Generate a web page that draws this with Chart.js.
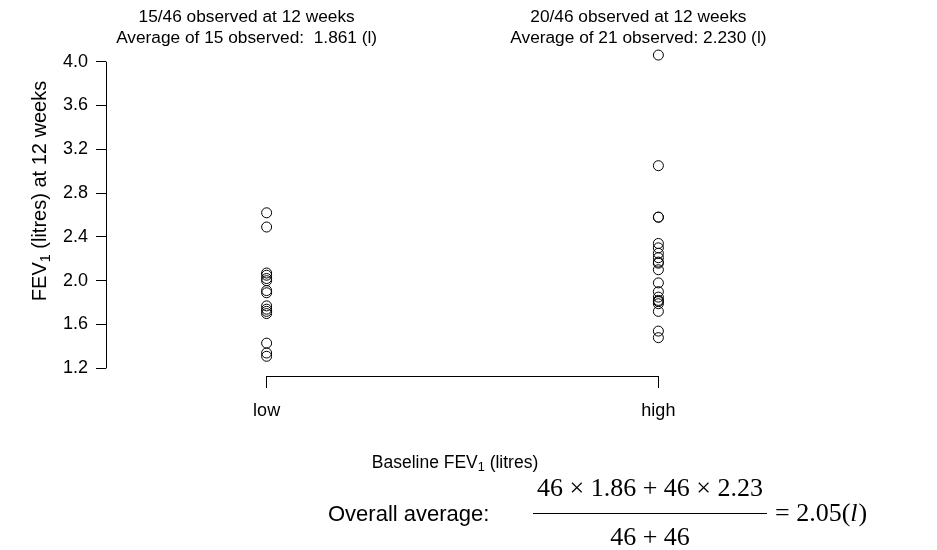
<!DOCTYPE html>
<html lang="en">
<head>
<meta charset="UTF-8">
<title>FEV1 at 12 weeks</title>
<script src="https://cdn.jsdelivr.net/npm/chart.js"></script>
<style>
  body { margin: 0; background: #fff; }
</style>
</head>
<body>
<canvas id="fevChart" width="937" height="550"></canvas>
<script>
// data
const groups = ['low', 'high'];
const lowFev = [2.62, 2.49, 2.07, 2.05, 2.02, 2.00, 1.91, 1.89, 1.77, 1.74, 1.72, 1.70, 1.43, 1.34, 1.31];
const highFev = [4.06, 3.05, 2.58, 2.58, 2.34, 2.30, 2.25, 2.21, 2.17, 2.16, 2.10, 1.98, 1.90, 1.85, 1.82, 1.81, 1.79, 1.72, 1.54, 1.48];
const yTicks = [1.2, 1.6, 2.0, 2.4, 2.8, 3.2, 3.6, 4.0];
const panelTitles = [
  ['15/46 observed at 12 weeks', 'Average of 15 observed:  1.861 (l)'],
  ['20/46 observed at 12 weeks', 'Average of 21 observed: 2.230 (l)']
];

const SANS = '"Liberation Sans", Arial, sans-serif';
const SERIF = '"Liberation Serif", "Times New Roman", serif';

// draw text with a subscript piece, e.g. FEV_1
function drawParts(ctx, parts, x, y, size) {
  let total = 0;
  parts.forEach(p => {
    ctx.font = (p.sub ? size * 0.72 : size) + 'px ' + SANS;
    p.w = ctx.measureText(p.t).width;
    total += p.w;
  });
  let cx = x - total / 2;
  ctx.textAlign = 'left';
  parts.forEach(p => {
    ctx.font = (p.sub ? size * 0.72 : size) + 'px ' + SANS;
    ctx.fillText(p.t, cx, p.sub ? y + size * 0.28 : y);
    cx += p.w;
  });
}

const rAxes = {
  id: 'rAxes',
  afterDraw(chart) {
    const ctx = chart.ctx;
    const xs = chart.scales.x, ys = chart.scales.y;
    const area = chart.chartArea;
    ctx.save();
    ctx.strokeStyle = '#000';
    ctx.lineWidth = 1;
    // axis lines only over the tick range, like base R
    const lx = Math.round(area.left) + 0.5;
    ctx.beginPath();
    ctx.moveTo(lx, ys.getPixelForValue(yTicks[0]));
    ctx.lineTo(lx, ys.getPixelForValue(yTicks[yTicks.length - 1]));
    const by = Math.round(area.bottom) + 0.5;
    ctx.moveTo(xs.getPixelForValue(1), by);
    ctx.lineTo(xs.getPixelForValue(2), by);
    ctx.stroke();

    ctx.fillStyle = '#000';
    ctx.textBaseline = 'middle';
    ctx.textAlign = 'center';
    ctx.font = '17.3px ' + SANS;
    panelTitles.forEach((lines, i) => {
      const px = xs.getPixelForValue(i + 1) - 20;
      ctx.fillText(lines[0], px, 17);
      ctx.fillText(lines[1], px, 38);
    });

    // x axis title
    drawParts(ctx, [{t: 'Baseline FEV'}, {t: '1', sub: true}, {t: ' (litres)'}], 455, 463, 17.5);

    // y axis title
    ctx.save();
    ctx.translate(40, 191);
    ctx.rotate(-Math.PI / 2);
    drawParts(ctx, [{t: 'FEV'}, {t: '1', sub: true}, {t: ' (litres) at 12 weeks'}], 0, 0, 20);
    ctx.restore();

    // overall average formula
    ctx.textAlign = 'left';
    ctx.font = '22px ' + SANS;
    ctx.fillText('Overall average:', 328, 515);
    ctx.font = '26px ' + SERIF;
    ctx.textAlign = 'center';
    ctx.fillText('46 \u00d7 1.86 + 46 \u00d7 2.23', 650, 489);
    ctx.fillText('46 + 46', 650, 538);
    ctx.beginPath();
    ctx.moveTo(533, 513.5);
    ctx.lineTo(767, 513.5);
    ctx.stroke();
    ctx.textAlign = 'left';
    const ex = 775;
    ctx.fillText('= 2.05(', ex, 514);
    let w = ctx.measureText('= 2.05(').width;
    ctx.font = 'italic 26px ' + SERIF;
    ctx.fillText('l', ex + w, 514);
    w += ctx.measureText('l').width + 1;
    ctx.font = '26px ' + SERIF;
    ctx.fillText(')', ex + w, 514);
    ctx.restore();
  }
};

const pointStyle = {
  pointRadius: 5,
  pointHoverRadius: 5,
  pointBorderColor: '#000',
  pointBackgroundColor: 'rgba(0,0,0,0)',
  pointBorderWidth: 1
};

new Chart(document.getElementById('fevChart'), {
  type: 'scatter',
  data: {
    datasets: [
      Object.assign({ label: 'low', data: lowFev.map(v => ({ x: 1, y: v })) }, pointStyle),
      Object.assign({ label: 'high', data: highFev.map(v => ({ x: 2, y: v })) }, pointStyle)
    ]
  },
  options: {
    responsive: false,
    animation: false,
    layout: { padding: { left: 0, top: 43, right: 118, bottom: 0 } },
    plugins: { legend: { display: false }, tooltip: { enabled: false } },
    scales: {
      x: {
        type: 'linear',
        min: 0.59,
        max: 2.41,
        afterFit: s => { s.height = 174; },
        afterBuildTicks: s => { s.ticks = [{ value: 1 }, { value: 2 }]; },
        grid: { display: true, drawOnChartArea: false, drawTicks: true, tickLength: 12, color: '#000' },
        border: { display: false },
        ticks: {
          autoSkip: false,
          maxRotation: 0,
          padding: 12,
          color: '#000',
          font: { family: SANS, size: 18 },
          callback: v => groups[v - 1]
        }
      },
      y: {
        min: 1.13,
        max: 4.17,
        afterFit: s => { s.width = 106; },
        afterBuildTicks: s => { s.ticks = yTicks.map(v => ({ value: v })); },
        grid: { display: true, drawOnChartArea: false, drawTicks: true, tickLength: 10, color: '#000' },
        border: { display: false },
        ticks: {
          autoSkip: false,
          padding: 8,
          color: '#000',
          font: { family: SANS, size: 18 },
          callback: v => v.toFixed(1)
        }
      }
    }
  },
  plugins: [rAxes]
});
</script>
</body>
</html>
